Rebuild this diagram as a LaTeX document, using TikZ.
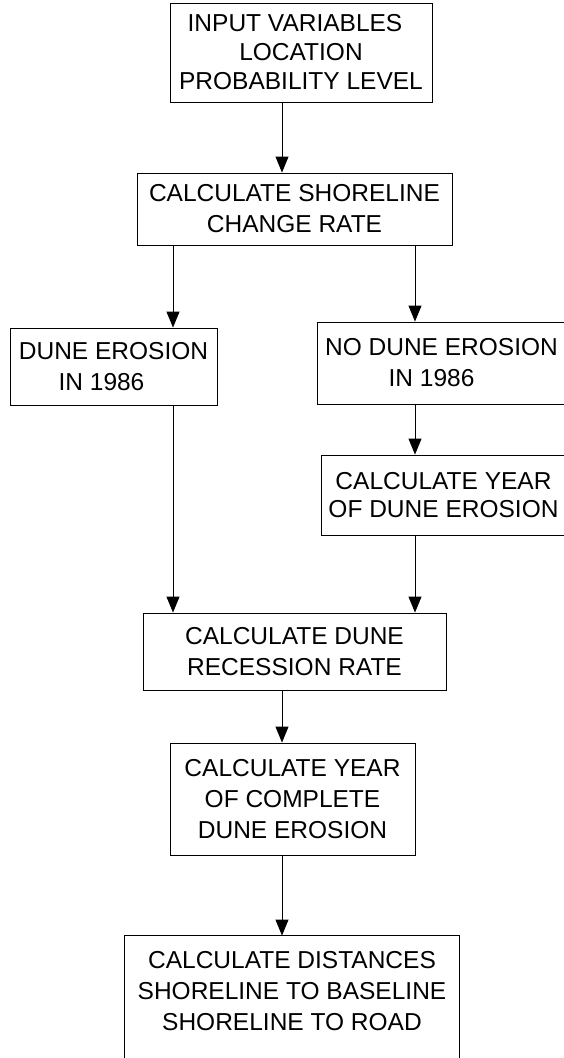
\documentclass[tikz,border=0pt]{standalone}
\usepackage{fontspec}
\setmainfont{Liberation Sans}
\usetikzlibrary{arrows.meta}
\begin{document}
\begin{tikzpicture}[x=1pt,y=-1pt,
  boxnode/.style={draw, line width=0.9pt, align=center, inner sep=0pt,
    font=\fontsize{24.5}{31}\selectfont},
  arr/.style={line width=0.9pt, -{Triangle[width=13pt,length=16pt]}}]
\useasboundingbox (0,0) rectangle (564,1058);
\coordinate (colL) at (173,0);
\coordinate (colR) at (415,0);
\coordinate (colM) at (282,0);
\node[boxnode, minimum width=262pt, minimum height=99pt,
  font=\fontsize{24.5}{29}\selectfont] (in) at (301,52.5)
  {INPUT VARIABLES\hspace*{12pt}\\LOCATION\hspace*{26pt}\\PROBABILITY LEVEL};
\node[boxnode, minimum width=315pt, minimum height=72pt] (shore) at (294.5,209)
  {CALCULATE SHORELINE\\CHANGE RATE};
\node[boxnode, minimum width=207pt, minimum height=77pt] (dune) at (113.5,366.5)
  {DUNE EROSION\\IN 1986\hspace*{24pt}};
\node[boxnode, minimum width=249pt, minimum height=82pt] (nodune) at (441.5,363)
  {NO DUNE EROSION\\IN 1986\hspace*{20pt}};
\node[boxnode, minimum width=245pt, minimum height=80pt,
  font=\fontsize{24.5}{28}\selectfont] (year) at (443.5,495)
  {CALCULATE YEAR\\OF DUNE EROSION};
\node[boxnode, minimum width=303pt, minimum height=77pt] (recess) at (294.5,651.5)
  {CALCULATE DUNE\\RECESSION RATE};
\node[boxnode, minimum width=245pt, minimum height=112pt] (complete) at (292.5,799)
  {CALCULATE YEAR\\OF COMPLETE\\DUNE EROSION};
\node[boxnode, draw=none, minimum width=334pt, minimum height=110pt] (dist) at (292,991)
  {CALCULATE DISTANCES\\SHORELINE TO BASELINE\\SHORELINE TO ROAD};
\draw[line width=0.9pt] (dist.north west) ++(0,140) -- (dist.north west) -- (dist.north east) -- ++(0,140);
\draw[arr] (in.south -| colM) -- (shore.north -| colM);
\draw[arr] (shore.south -| colL) -- (dune.north -| colL);
\draw[arr] (shore.south -| colR) -- (nodune.north -| colR);
\draw[arr] (nodune.south -| colR) -- (year.north -| colR);
\draw[arr] (dune.south -| colL) -- (recess.north -| colL);
\draw[arr] (year.south -| colR) -- (recess.north -| colR);
\draw[arr] (recess.south -| colM) -- (complete.north -| colM);
\draw[arr] (complete.south -| colM) -- (dist.north -| colM);
\end{tikzpicture}
\end{document}
